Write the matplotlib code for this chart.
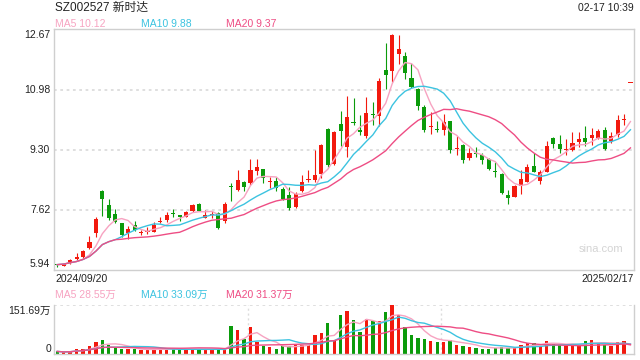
import matplotlib
matplotlib.use("Agg")
import matplotlib.pyplot as plt
import numpy as np
import pandas as pd

plt.rcParams["font.family"] = ["Liberation Sans", "Noto Sans CJK SC"]

# daily candles, 2024/09/20 .. 2025/02/17 (last one is a limit-up dash)
opens = [6.10, 6.06, 6.13, 6.26, 6.29, 6.55, 6.97, 8.16, 7.76, 7.50,
         7.24, 6.97, 7.19, 6.98, 7.00, 7.01, 7.29, 7.35, 7.51, 7.47,
         7.43, 7.60, 7.78, 7.40, 7.47, 7.52, 7.31, 8.29, 8.18, 8.40,
         8.38, 8.71, 8.76, 8.40, 8.43, 8.20, 8.03, 7.69, 8.16, 8.44,
         8.45, 8.62, 9.88, 8.90, 10.02, 9.38, 10.08, 9.85, 9.69, 10.29,
         10.25, 11.53, 11.51, 11.97, 11.92, 11.31, 11.00, 10.49, 9.92, 9.86,
         9.85, 10.10, 9.32, 9.43, 9.08, 9.19, 9.15, 9.03, 8.69, 8.62,
         8.03, 7.99, 8.29, 8.41, 8.85, 8.43, 8.69, 9.63, 9.47, 9.28,
         9.29, 9.52, 9.64, 9.64, 9.64, 9.84, 9.54, 9.71, 10.12, 11.16]
highs = [6.11, 6.14, 6.26, 6.42, 6.49, 6.90, 7.42, 8.18, 7.92, 7.63,
         7.26, 7.16, 7.31, 7.06, 7.13, 7.29, 7.43, 7.57, 7.64, 7.48,
         7.58, 7.79, 7.80, 7.62, 7.59, 7.57, 7.84, 8.37, 8.73, 8.43,
         9.03, 9.04, 8.77, 8.55, 8.55, 8.27, 8.27, 8.13, 8.58, 8.72,
         9.30, 9.47, 9.90, 9.81, 10.38, 10.80, 10.75, 10.27, 10.78, 10.64,
         11.29, 12.27, 12.54, 12.50, 12.02, 11.71, 11.03, 10.55, 10.35, 10.10,
         10.29, 10.11, 9.68, 9.45, 9.36, 9.37, 9.20, 9.07, 8.95, 8.66,
         8.17, 8.31, 8.72, 8.89, 9.22, 8.74, 9.54, 9.66, 9.71, 9.60,
         9.80, 9.80, 9.96, 9.91, 9.89, 9.93, 9.79, 10.27, 10.29, 11.16]
lows = [6.02, 6.04, 6.10, 6.23, 6.26, 6.53, 6.86, 7.46, 7.35, 7.25,
        6.86, 6.80, 7.03, 6.93, 6.95, 6.99, 7.24, 7.29, 7.43, 7.30,
        7.41, 7.57, 7.59, 7.38, 7.38, 7.09, 7.24, 7.87, 8.16, 8.16,
        8.32, 8.60, 8.38, 8.22, 8.16, 7.90, 7.62, 7.66, 8.13, 8.40,
        8.41, 8.51, 8.82, 8.87, 9.41, 9.10, 9.99, 9.71, 9.62, 9.99,
        9.95, 10.99, 11.20, 11.69, 11.27, 11.01, 10.41, 9.80, 9.75, 9.79,
        9.71, 9.22, 9.15, 8.92, 9.01, 9.10, 8.91, 8.74, 8.53, 8.05,
        7.79, 7.97, 8.05, 8.40, 8.68, 8.33, 8.67, 9.36, 9.20, 9.16,
        9.27, 9.38, 9.41, 9.44, 9.60, 9.29, 9.48, 9.65, 9.99, 11.16]
closes = [6.09, 6.12, 6.22, 6.28, 6.47, 6.73, 7.36, 7.93, 7.38, 7.29,
          6.92, 7.09, 7.07, 7.00, 7.02, 7.20, 7.31, 7.47, 7.49, 7.43,
          7.56, 7.76, 7.60, 7.48, 7.49, 7.12, 7.78, 8.26, 8.45, 8.27,
          8.73, 8.82, 8.50, 8.42, 8.22, 7.92, 7.68, 8.06, 8.40, 8.47,
          8.59, 9.43, 8.87, 9.78, 9.82, 10.21, 10.05, 9.79, 10.32, 10.27,
          11.22, 11.39, 12.50, 12.11, 11.45, 11.06, 10.53, 9.85, 9.96, 9.84,
          10.07, 9.29, 9.36, 9.01, 9.22, 9.18, 9.01, 8.76, 8.67, 8.10,
          7.96, 8.29, 8.48, 8.83, 8.69, 8.69, 9.40, 9.47, 9.32, 9.30,
          9.48, 9.60, 9.52, 9.72, 9.82, 9.32, 9.68, 10.13, 10.14, 11.16]
# volume, 万 shares
volumes = [8, 5, 8, 16, 16, 26, 38, 44, 29, 20,
           15, 15, 16, 11, 13, 16, 16, 16, 15, 13,
           13, 16, 16, 13, 13, 15, 13, 87, 75, 47,
           84, 38, 24, 22, 16, 24, 24, 29, 29, 29,
           58, 65, 95, 41, 121, 133, 106, 69, 108, 102,
           102, 130, 151.69, 120, 84, 59, 50, 47, 41, 38,
           38, 44, 29, 26, 23, 19, 17, 17, 18, 23,
           18, 18, 29, 33, 35, 26, 41, 32, 29, 24,
           29, 29, 41, 44, 32, 29, 26, 38, 41, 1]

price_ticks = [5.94, 7.62, 9.30, 10.98, 12.67]
vol_top = 151.69
ma_price_text = {5: "MA5 10.12", 10: "MA10 9.88", 20: "MA20 9.37"}
ma_vol_text = {5: "MA5 28.55万", 10: "MA10 33.09万", 20: "MA20 31.37万"}
month_marks = [29.65, 59.65]

RED = "#f2190e"
GREEN = "#0b9b0b"
MA_COLORS = {5: "#f7a3c1", 10: "#3cc3e0", 20: "#ee4d84"}
FRAME = "#cfcfcf"
GRID = "#dcdcdc"
TXT = "#222222"

W, H = 640, 360


def px(x, y):
    return x / W, 1 - y / H


fig = plt.figure(figsize=(6.4, 3.6), dpi=100)
ax = fig.add_axes([54 / W, 1 - 270 / H, 580 / W, 241 / H])
axv = fig.add_axes([54 / W, 1 - 354 / H, 580 / W, 49 / H])

o = np.array(opens)
h = np.array(highs)
l = np.array(lows)
c = np.array(closes)
x = np.arange(len(o))
colors = np.where(c >= o, RED, GREEN)

# price panel
for v in price_ticks[1:-1]:
    ax.axhline(v, color=GRID, lw=1.3, ls=(0, (1.5, 2)), zorder=0)
ax.vlines(x, l, h, colors=colors, lw=0.8, zorder=2)
ax.bar(x, np.maximum(np.abs(c - o), 0.03), bottom=np.minimum(o, c), width=0.64,
       color=colors, linewidth=0, zorder=3)
s = pd.Series(closes)
for n in (5, 10, 20):
    ax.plot(x, s.rolling(n, min_periods=1).mean(), color=MA_COLORS[n], lw=1.0, zorder=4)

ax.set_xlim(-0.51, 89.55)
ax.set_ylim(price_ticks[0], price_ticks[-1])
ax.set_xticks([])
ax.set_yticks([])
for sp in ax.spines.values():
    sp.set_color(FRAME)
    sp.set_linewidth(1)

for v in price_ticks:
    dy = 0
    if v == price_ticks[-1]:
        dy = -4.3
    elif v == price_ticks[0]:
        dy = 4.3
    ax.annotate(f"{v:.2f}", xy=(0, v), xycoords=("axes fraction", "data"),
                xytext=(-2.7, dy), textcoords="offset points",
                ha="right", va="center", fontsize=7.5, color=TXT)

# volume panel
axv.axhline(vol_top, color=GRID, lw=1.3, ls=(0, (1.5, 2)), zorder=0)
for m in month_marks:
    axv.axvline(m, color=GRID, lw=1.0, ls=(0, (1.5, 2)), zorder=0)
axv.bar(x, volumes, width=0.52, color=colors, linewidth=0, zorder=2)
sv = pd.Series(volumes)
for n in (5, 10, 20):
    axv.plot(x, sv.rolling(n, min_periods=1).mean(), color=MA_COLORS[n], lw=1.0, zorder=3)
axv.set_xlim(-0.51, 89.55)
axv.set_ylim(0, vol_top)
axv.set_xticks([])
axv.set_yticks([])
for sp in axv.spines.values():
    sp.set_color(FRAME)
    sp.set_linewidth(1)
axv.spines["top"].set_visible(False)

# texts
fig.text(*px(55, 8), "SZ002527 新时达", fontsize=8.5, color=TXT, ha="left", va="center")
fig.text(*px(634, 8), "02-17 10:39", fontsize=7.5, color=TXT, ha="right", va="center")
for n, xpos in zip((5, 10, 20), (55, 141, 226)):
    fig.text(*px(xpos, 24), ma_price_text[n], fontsize=7.5, color=MA_COLORS[n], ha="left", va="center")
    fig.text(*px(xpos, 294.5), ma_vol_text[n], fontsize=7.5, color=MA_COLORS[n], ha="left", va="center")
fig.text(*px(55, 278.5), "2024/09/20", fontsize=7.5, color=TXT, ha="left", va="center")
fig.text(*px(634, 278.5), "2025/02/17", fontsize=7.5, color=TXT, ha="right", va="center")
fig.text(*px(51, 310.5), "151.69万", fontsize=7.5, color=TXT, ha="right", va="center")
fig.text(*px(51, 348.5), "0", fontsize=7.5, color=TXT, ha="right", va="center")
fig.text(*px(623, 249), "sina.com", fontsize=8, color="#d4d4d4", ha="right", va="center")

fig.savefig("out.png", dpi=100)
